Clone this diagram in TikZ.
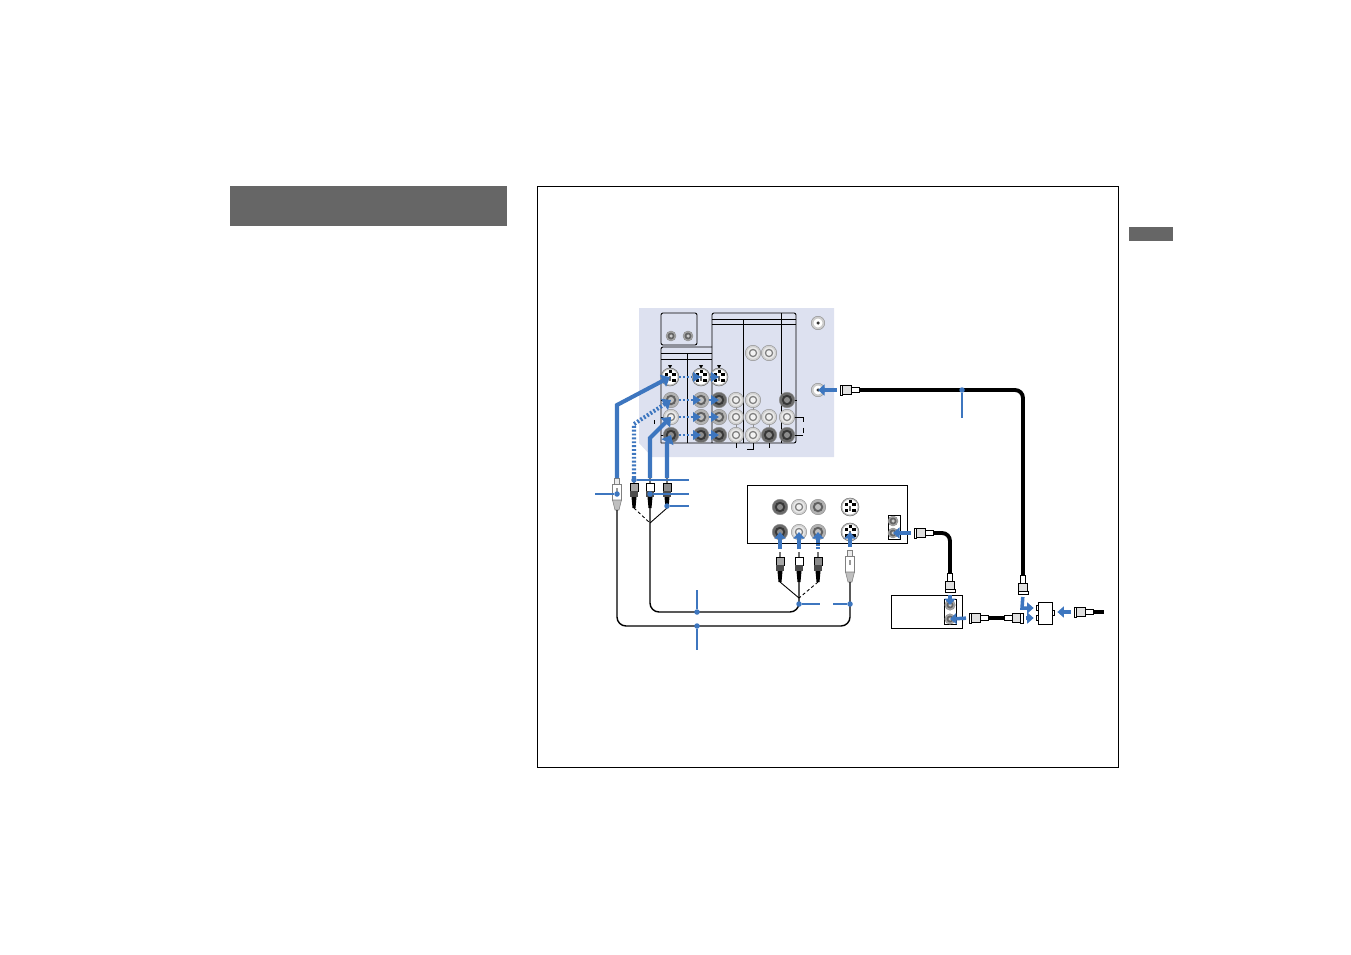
\documentclass[tikz,border=0pt]{standalone}
\usetikzlibrary{arrows.meta}
\definecolor{wireblue}{HTML}{3D76BF}
\definecolor{panelblue}{HTML}{DDE1F0}
\definecolor{headgrey}{HTML}{666666}
\tikzset{
  rcajack/.style={circle,draw=black!45,line width=.25pt,inner sep=0pt,minimum size=.31cm},
  jackdark/.style={rcajack,fill=black!58,path picture={
    \fill[black!78] (path picture bounding box.center) circle (.105cm);
    \fill[black!45] (path picture bounding box.center) circle (.06cm);}},
  jackmid/.style={rcajack,fill=black!30,path picture={
    \fill[black!62] (path picture bounding box.center) circle (.105cm);
    \fill[black!25] (path picture bounding box.center) circle (.06cm);}},
  jacklight/.style={rcajack,fill=black!18,path picture={
    \fill[black!8] (path picture bounding box.center) circle (.115cm);
    \fill[black!50] (path picture bounding box.center) circle (.085cm);
    \fill[black!5] (path picture bounding box.center) circle (.055cm);}},
  coaxjack/.style={rcajack,fill=black!20,minimum size=.27cm,path picture={
    \fill[white] (path picture bounding box.center) circle (.09cm);
    \fill[black!80] (path picture bounding box.center) circle (.035cm);}},
  smalljack/.style={rcajack,fill=black!35,minimum size=.2cm,path picture={
    \fill[black!60] (path picture bounding box.center) circle (.07cm);
    \fill[black!20] (path picture bounding box.center) circle (.035cm);}},
  svideojack/.style={circle,draw=black!55,line width=.3pt,fill=black!25,inner sep=0pt,minimum size=.36cm,path picture={
    \fill[white] (path picture bounding box.center) circle (.15cm);
    \fill[black] ([shift={(-5.5,-4)}]path picture bounding box.center) rectangle +(3.5,3);
    \fill[black] ([shift={(2,-4)}]path picture bounding box.center) rectangle +(3.5,3);
    \fill[black] ([shift={(-5.5,1.5)}]path picture bounding box.center) rectangle +(3.5,3);
    \fill[black] ([shift={(2,1.5)}]path picture bounding box.center) rectangle +(3.5,3);
    \fill[black] ([shift={(-1.5,-7)}]path picture bounding box.center) rectangle +(3,3);
    \fill[black!60] ([shift={(-1,-1.5)}]path picture bounding box.center) rectangle +(2,5);}},
  wirearrow/.style={wireblue,line width=2pt,shorten <=.06cm,-{Triangle[length=.13cm,width=.22cm]}},
  wirethick/.style={wireblue,line width=2.3pt,-{Triangle[length=.16cm,width=.26cm]}},
  wiredotted/.style={wireblue,line width=2.3pt,dash pattern=on 1.1pt off 1.1pt,-{Triangle[length=.16cm,width=.26cm]}},
  linkdotted/.style={wireblue,line width=1.1pt,dash pattern=on 1.1pt off 1.1pt},
  linkhead/.style={wireblue},
  leader/.style={wireblue,line width=1.1pt},
  leaderthin/.style={wireblue,line width=.6pt},
  leaderdot/.style={circle,fill=wireblue,inner sep=0pt,minimum size=.11cm},
  panelline/.style={black,line width=.5pt},
  cable/.style={black,line width=.8pt,rounded corners=.18cm},
  coax/.style={black,line width=2.2pt,rounded corners=.16cm},
  rcaplug/.pic={
    \fill[black!55] (-1,0) rectangle (1,5);
    \filldraw[black,line width=.35pt,fill=#1] (-4,5) rectangle (4,13);
    \fill[black!70] (-4,13) rectangle (4,19);
    \fill[black] (-2.5,19) -- (2.5,19) -- (1.5,30) -- (-1.5,30) -- cycle;
    \coordinate (-top) at (0,0);
    \coordinate (-end) at (0,30);
  },
  splug/.pic={
    \filldraw[black!50,line width=.3pt,fill=black!8] (-2.5,0) rectangle (2.5,6);
    \filldraw[black!50,line width=.3pt,fill=white] (-4.5,6) rectangle (4.5,22);
    \filldraw[black!50,line width=.3pt,fill=black!25] (-4.5,22) -- (4.5,22) -- (2,32) -- (-2,32) -- cycle;
    \fill[black!40] (-.8,10) rectangle (.8,15);
    \coordinate (-top) at (0,0);
    \coordinate (-end) at (0,32);
  },
  coaxplug/.pic={
    \filldraw[black,line width=.45pt,fill=white] (0,-5) rectangle (2.5,5);
    \filldraw[black,line width=.45pt,fill=black!12] (2.5,-4.5) rectangle (11,4.5);
    \filldraw[black,line width=.45pt,fill=white] (11,-2.8) rectangle (19,2.8);
    \coordinate (-tip) at (0,0);
    \coordinate (-end) at (19,0);
  }
}
\begin{document}
\begin{tikzpicture}[x=.02cm,y=-.02cm]
\useasboundingbox (0,0) rectangle (1351,954);
% header bar and tab
\fill[headgrey] (230,186) rectangle (507,226);
\fill[headgrey] (1129,227) rectangle (1173,241);
\draw[black,line width=.45pt] (537,186) rectangle (1118,767);

% rear panel
\fill[panelblue] (639,308) -- (834,308) -- (834,457) -- (652,457) -- (639,443) -- cycle;
\draw[panelline,rounded corners=.04cm] (661,313) rectangle (697,345);
\draw[panelline,rounded corners=.04cm] (661,443) -- (661,347) -- (712,347);
\draw[panelline,rounded corners=.04cm] (712,443) -- (712,313) -- (796,313) -- (796,443) -- (661,443);
\draw[panelline] (661,353) -- (712,353);
\draw[panelline] (661,359) -- (712,359);
\draw[panelline] (712,319) -- (796,319);
\draw[panelline] (712,324) -- (796,324);
\draw[panelline] (687,353) -- (687,443);
\draw[panelline] (743,319) -- (743,443);
\draw[panelline] (781,313) -- (781,443);
\fill[black] (668,365) -- (672,365) -- (670,369) -- cycle;
\fill[black] (699,365) -- (703,365) -- (701,369) -- cycle;
\fill[black] (717,365) -- (721,365) -- (719,369) -- cycle;

% ticks and brackets of the panel
\draw[panelline] (661,400) -- (665,400);
\draw[panelline] (661,417) -- (665,417);
\draw[panelline] (661,435) -- (665,435);
\draw[panelline] (654,420) -- (654,424);
\draw[panelline] (736,443) -- (736,448);
\draw[panelline] (753,443) -- (753,449) -- (747,449);
\draw[panelline] (769,443) -- (769,448);
\draw[panelline] (787,400) -- (797,400);
\draw[panelline] (787,417) -- (803,417);
\draw[panelline] (787,435) -- (803,435);
\draw[panelline,dashed] (803,417) -- (803,435);
\draw[black!45,line width=.5pt] (736,400) -- (736,435);
\draw[black!45,line width=.5pt] (753,400) -- (753,435);
\draw[black!45,line width=.5pt] (769,417) -- (769,435);

% panel jacks
\node[smalljack] (spkL) at (671,336) {};
\node[smalljack] (spkR) at (688,336) {};
\node[jacklight] (monL) at (753,353) {};
\node[jacklight] (monR) at (769,353) {};
\node[svideojack] (inS) at (670,377) {};
\node[svideojack] (midS) at (701,377) {};
\node[svideojack] (outS) at (719,377) {};
\node[jackmid] (inV) at (671,400) {};
\node[jackmid] (midV) at (701,400) {};
\node[jackdark] (outV) at (719,400) {};
\node[jacklight] (cmpV) at (736,400) {};
\node[jacklight] (monV) at (753,400) {};
\node[jackdark] (auxV) at (787,400) {};
\node[jacklight] (inW) at (671,417) {};
\node[jackmid] (midW) at (701,417) {};
\node[jackmid] (outW) at (719,417) {};
\node[jacklight] (cmpW) at (736,417) {};
\node[jacklight] (monW) at (753,417) {};
\node[jacklight] (extW) at (769,417) {};
\node[jacklight] (auxW) at (787,417) {};
\node[jackdark] (inR) at (671,435) {};
\node[jackdark] (midR) at (701,435) {};
\node[jackdark] (outR) at (719,435) {};
\node[jacklight] (cmpR) at (736,435) {};
\node[jacklight] (monB) at (753,435) {};
\node[jackdark] (extR) at (769,435) {};
\node[jackdark] (auxR) at (787,435) {};
\node[coaxjack] (vhfA) at (818,323) {};
\node[coaxjack] (vhfB) at (818,390) {};

% links between panel jacks
\draw[linkdotted] (inS) -- (midS);
\draw[linkdotted] (midS) -- (outS);
\draw[linkdotted] (inV) -- (midV);
\draw[linkdotted] (midV) -- (outV);
\draw[linkdotted] (inW) -- (midW);
\draw[linkdotted] (midW) -- (outW);
\draw[linkdotted] (inR) -- (midR);
\draw[linkdotted] (midR) -- (outR);
\fill[linkhead] (693,372) -- (701,377) -- (693,382) -- cycle;
\fill[linkhead] (711,372) -- (719,377) -- (711,382) -- cycle;
\fill[linkhead] (693,395) -- (701,400) -- (693,405) -- cycle;
\fill[linkhead] (711,395) -- (719,400) -- (711,405) -- cycle;
\fill[linkhead] (693,412) -- (701,417) -- (693,422) -- cycle;
\fill[linkhead] (711,412) -- (719,417) -- (711,422) -- cycle;
\fill[linkhead] (693,430) -- (701,435) -- (693,440) -- cycle;
\fill[linkhead] (711,430) -- (719,435) -- (711,440) -- cycle;

% tv side plugs
\pic (sTv) at (617,478) {splug};
\pic (yTv) at (634,478) {rcaplug=black!35};
\pic (wTv) at (650,478) {rcaplug=white};
\pic (rTv) at (667,478) {rcaplug=black!45};

% thick blue wires up to the panel
\draw[wirethick] (sTv-top) -- (617,405) -- (inS.center);
\draw[wiredotted] (yTv-top) -- (634,424) -- (inV.center);
\draw[wirethick] (wTv-top) -- (650,438) -- (inW.center);
\draw[wirethick] (rTv-top) -- (667,443) -- (inR.center);

% vcr
\draw[panelline] (747,485) rectangle (907,543);
\node[jackdark] (vcrVa) at (780,507) {};
\node[jacklight] (vcrWa) at (799,507) {};
\node[jackmid] (vcrRa) at (818,507) {};
\node[svideojack] (vcrSa) at (850,507) {};
\node[jackdark] (vcrVb) at (780,532) {};
\node[jacklight] (vcrWb) at (799,532) {};
\node[jackmid] (vcrRb) at (818,532) {};
\node[svideojack] (vcrSb) at (850,532) {};
\draw[panelline] (888,515) rectangle (900,539);
\node[smalljack] (vcrAnt) at (893,521) {};
\node[smalljack] (vcrOut) at (893,533) {};

% vcr side plugs
\pic (vVcr) at (780,552) {rcaplug=black!35};
\pic (wVcr) at (799,552) {rcaplug=white};
\pic (rVcr) at (818,552) {rcaplug=black!45};
\pic (sVcr) at (850,550) {splug};
\draw[wirearrow] (vVcr-top) -- (vcrVb.center);
\draw[wirearrow] (wVcr-top) -- (vcrWb.center);
\draw[wirearrow,dash pattern=on 1pt off .8pt on 1pt off .8pt on 20pt] (rVcr-top) -- (vcrRb.center);
\draw[wirearrow] (sVcr-top) -- (vcrSb.center);

% cable bundles
\coordinate (forkTv) at (650,523);
\coordinate (forkVcr) at (799,598);
\draw[black,line width=.5pt,dash pattern=on 1.8pt off 1.4pt] (yTv-end) -- (forkTv);
\draw[black,line width=.5pt] (rTv-end) -- (forkTv);
\draw[black,line width=.5pt] (vVcr-end) -- (forkVcr);
\draw[black,line width=.5pt,dash pattern=on 1.8pt off 1.4pt] (rVcr-end) -- (forkVcr);
\draw[cable] (wTv-end) -- (650,612) -- (799,612) -- (wVcr-end);
\draw[cable] (sTv-end) -- (617,626) -- (850,626) -- (sVcr-end);

% tuner box
\draw[panelline] (891,595) rectangle (962,628);
\draw[panelline] (944,599) rectangle (956,624);
\node[smalljack,minimum size=.21cm] (boxIn) at (950,605) {};
\node[smalljack,minimum size=.21cm] (boxOut) at (950,619) {};

% splitter
\draw[panelline] (1038,602) rectangle (1052,624);
\draw[panelline] (1036,605) rectangle (1038,610);
\draw[panelline] (1036,615) rectangle (1038,620);
\draw[panelline] (1052,610) rectangle (1054,615);
\node[inner sep=0pt,minimum size=0pt] (splitA) at (1034,608) {};
\node[inner sep=0pt,minimum size=0pt] (splitB) at (1034,618) {};
\node[inner sep=0pt,minimum size=0pt] (splitC) at (1057,612) {};

% coax plugs and cables
\pic (antTv) at (840,390) {coaxplug};
\pic[rotate=90] (antDrop) at (1023,594) {coaxplug};
\pic (vcrLead) at (914,533) {coaxplug};
\pic[rotate=90] (boxLead) at (950,592) {coaxplug};
\pic (linkA) at (969,618) {coaxplug};
\pic[rotate=180] (linkB) at (1023,618) {coaxplug};
\pic (wallLead) at (1074,612) {coaxplug};
\coordinate (wallEnd) at (1104,612);
\draw[coax] (antTv-end) -- (1023,390) -- (antDrop-end);
\draw[coax] (vcrLead-end) -- (950,533) -- (boxLead-end);
\draw[coax] (linkA-end) -- (linkB-end);
\draw[coax] (wallLead-end) -- (wallEnd);
\draw[wirearrow] (antTv-tip) -- (vhfB.center);
\draw[wirearrow] (vcrLead-tip) -- (vcrOut.center);
\draw[wirearrow] (boxLead-tip) -- (boxIn.center);
\draw[wirearrow] (linkA-tip) -- (boxOut.center);
\draw[wirearrow] (linkB-tip) -- (splitB);
\draw[wirearrow] (wallLead-tip) -- (splitC);
\draw[wirearrow] (antDrop-tip) -- (1022,608) -- (splitA);

% leaders
\node[leaderdot] (dotS) at (617,494) {};
\node[leaderdot] (dotY) at (634,480) {};
\node[leaderdot] (dotW) at (650,494) {};
\node[leaderdot] (dotR) at (667,506) {};
\node[leaderdot] (dotCmp) at (697,612) {};
\node[leaderdot] (dotSv) at (697,626) {};
\node[leaderdot] (dotRca) at (799,604) {};
\node[leaderdot] (dotSb) at (850,604) {};
\node[leaderdot] (dotAnt) at (962,390) {};
\coordinate (endS) at (595,494);
\coordinate (endY) at (689,480);
\coordinate (endW) at (689,494);
\coordinate (endR) at (689,506);
\coordinate (endCmp) at (697,590);
\coordinate (endSv) at (697,650);
\coordinate (endRca) at (820,604);
\coordinate (endSb) at (833,604);
\coordinate (endAnt) at (962,418);
\draw[leader] (dotS) -- (endS);
\draw[leader] (dotY) -- (endY);
\draw[leader] (dotW) -- (endW);
\draw[leaderthin] (dotR) -- (endR);
\draw[leaderthin] (dotCmp) -- (endCmp);
\draw[leaderthin] (dotSv) -- (endSv);
\draw[leader] (dotRca) -- (endRca);
\draw[leader] (dotSb) -- (endSb);
\draw[leaderthin,line width=.8pt] (dotAnt) -- (endAnt);
\end{tikzpicture}
\end{document}
